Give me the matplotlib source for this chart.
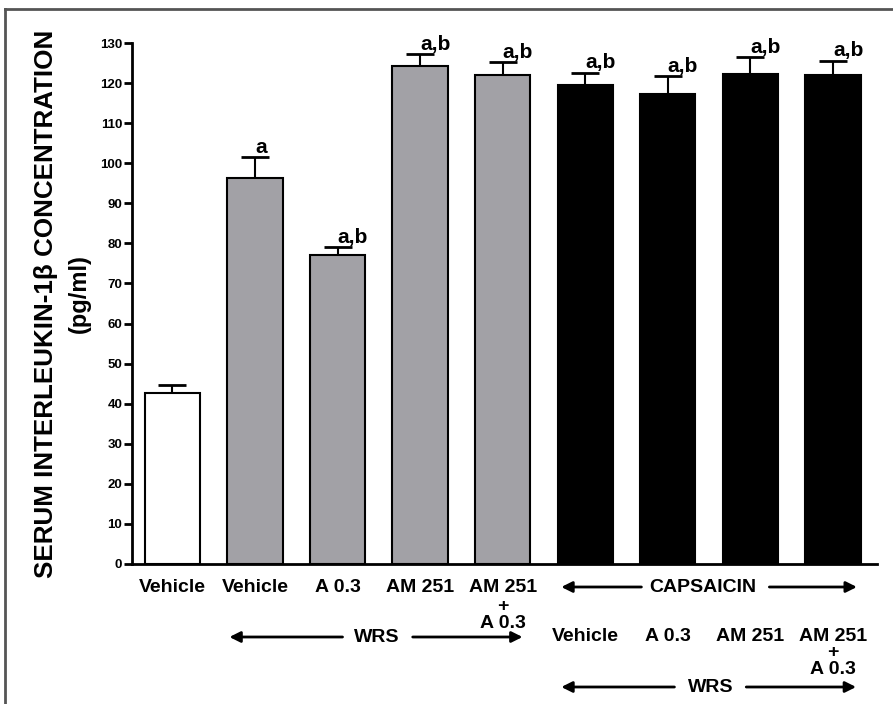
import matplotlib
matplotlib.use("Agg")
import matplotlib.pyplot as plt
from matplotlib.lines import Line2D

plt.rcParams['font.family'] = ['Liberation Sans', 'DejaVu Sans']
plt.rcParams['font.weight'] = 'bold'

# ---- data ----
means = [42.6, 96.2, 77.1, 124.3, 121.9, 119.4, 117.2, 122.3, 122.0]
errors = [2.1, 5.4, 2.0, 3.0, 3.3, 3.2, 4.6, 4.2, 3.6]
colors = ['white', '#a2a1a6', '#a2a1a6', '#a2a1a6', '#a2a1a6',
          'black', 'black', 'black', 'black']
sig = ['', 'a', 'a,b', 'a,b', 'a,b', 'a,b', 'a,b', 'a,b', 'a,b']
labels_top = ['Vehicle', 'Vehicle', 'A 0.3', 'AM 251', 'AM 251']
labels_bottom = ['Vehicle', 'A 0.3', 'AM 251', 'AM 251']
yticks = list(range(0, 131, 10))

W, H = 893, 704
fig = plt.figure(figsize=(W / 100, H / 100), dpi=100)
fig.patch.set_facecolor('white')

# axes placement in pixels
ax_l, ax_r, ax_b, ax_t = 132, 876.7, 564, 43
ax = fig.add_axes([ax_l / W, (H - ax_b) / H, (ax_r - ax_l) / W, (ax_b - ax_t) / H])

x = list(range(len(means)))
ax.bar(x, means, width=0.67, color=colors, edgecolor='black', linewidth=1.5, zorder=2)
ax.errorbar(x, means, yerr=[[0] * len(means), errors], fmt='none', ecolor='black',
            elinewidth=1.5, capsize=10, capthick=2, zorder=1)

for xi, m, e, s in zip(x, means, errors, sig):
    if s:
        ax.annotate(s, xy=(xi, m + e), xytext=(0, 3), textcoords='offset points',
                    ha='left', va='baseline', fontsize=15, fontweight='bold')

ax.set_xlim(-0.49, 8.53)
ax.set_ylim(0, 130)
ax.set_yticks(yticks)
ax.set_yticklabels([str(t) for t in yticks], fontsize=9.5, fontweight='bold')
ax.set_xticks([])
for sp in ['top', 'right']:
    ax.spines[sp].set_visible(False)
for sp in ['left', 'bottom']:
    ax.spines[sp].set_linewidth(2)
ax.tick_params(axis='y', direction='out', length=6, width=2, pad=1)

# pixel -> data for y
def py(pix):
    return (ax_b - pix) / ((ax_b - ax_t) / 130.0)

tk = dict(ha='center', va='center', fontsize=14, fontweight='bold', clip_on=False)

# group 1 labels
for i, lab in enumerate(labels_top):
    ax.text(i, py(587), lab, **tk)
ax.text(4, py(606), '+', **tk)
ax.text(4, py(624), 'A 0.3', **tk)

# group 2 labels
for j, lab in enumerate(labels_bottom):
    ax.text(5 + j, py(636.5), lab, **tk)
ax.text(8, py(653), '+', **tk)
ax.text(8, py(669), 'A 0.3', **tk)

def arrow(x0, x1, yv):
    ax.annotate('', xy=(x1, yv), xytext=(x0, yv), annotation_clip=False,
                arrowprops=dict(arrowstyle='-|>', lw=2, color='black',
                                mutation_scale=16, shrinkA=0, shrinkB=0))

# WRS group 1
y1 = py(637)
arrow(2.06, 0.69, y1)
arrow(2.91, 4.24, y1)
ax.text(2.48, y1, 'WRS', **tk)

# CAPSAICIN
yc = py(587)
arrow(5.68, 4.71, yc)
arrow(7.23, 8.29, yc)
ax.text(6.42, yc, 'CAPSAICIN', **tk)

# WRS group 2
y2 = py(687)
arrow(6.08, 4.71, y2)
arrow(6.95, 8.28, y2)
ax.text(6.52, y2, 'WRS', **tk)

# y label (two lines)
fig.text(46 / W, 1 - 304 / H, 'SERUM INTERLEUKIN-1β CONCENTRATION', rotation=90,
         ha='center', va='center', fontsize=18.7, fontweight='bold')
fig.text(79 / W, 1 - 294 / H, '(pg/ml)', rotation=90,
         ha='center', va='center', fontsize=17, fontweight='bold')

# outer frame (top and left)
fig.add_artist(Line2D([4.5 / W, 4.5 / W], [0, 1 - 9 / H], transform=fig.transFigure,
                      color='#555555', lw=2))
fig.add_artist(Line2D([4.5 / W, 1], [1 - 9 / H, 1 - 9 / H], transform=fig.transFigure,
                      color='#555555', lw=2))

fig.savefig('out.png', dpi=100, facecolor='white')
